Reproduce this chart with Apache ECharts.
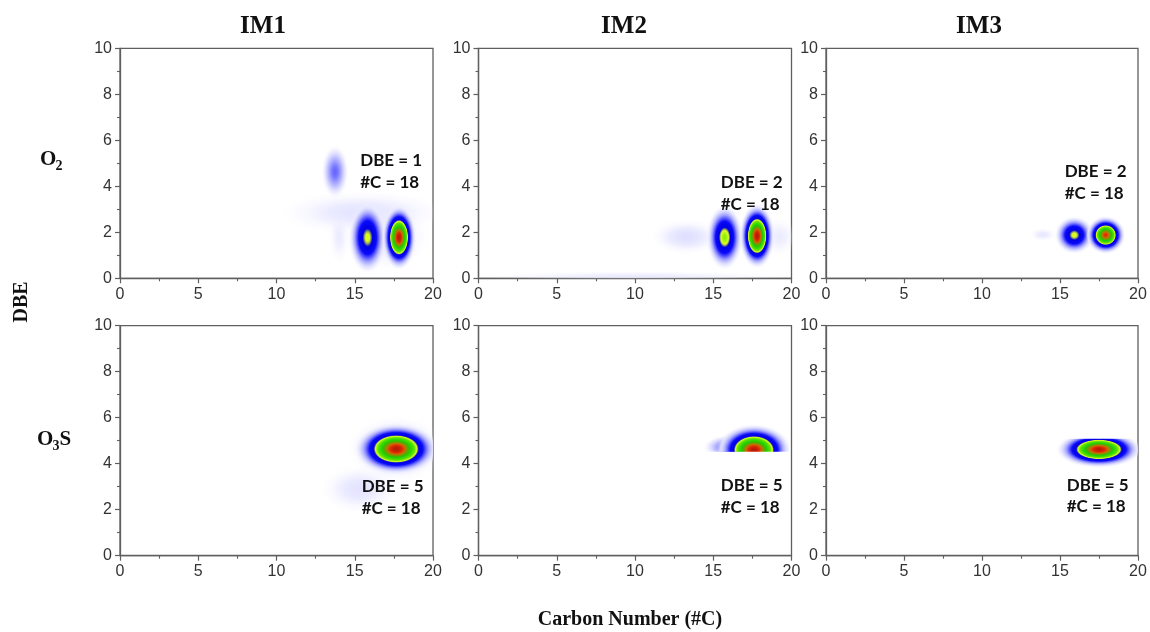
<!DOCTYPE html>
<html>
<head>
<meta charset="utf-8">
<script src="https://cdn.jsdelivr.net/npm/echarts@6/dist/echarts.min.js"></script>
<style>
  html, body { margin: 0; padding: 0; background: #ffffff; }
  #chart { width: 1150px; height: 632px; }
</style>
</head>
<body>
<div id="chart"></div>
<script>
// ---- data -------------------------------------------------------------
const columnTitles = ['IM1', 'IM2', 'IM3'];
// compound class per row: [element, subscript, trailing element]
const rowClasses = [['O', '2', ''], ['O', '3', 'S']];
const xAxisTitle = 'Carbon Number (#C)';
const yAxisTitle = 'DBE';
const carbonRange = [0, 20];
const carbonStep = 5;
const dbeRange = [0, 10];
const dbeStep = 2;

// abundance peaks: [carbon number, DBE, relative abundance, carbon spread, DBE spread]
const im1O2 = [
  [15.5, 2.85, 0.07, 5.6, 1.0],
  [17.0, 1.8, 0.07, 3.0, 1.5],
  [14.0, 1.8, 0.05, 0.7, 1.2],
  [13.74, 4.63, 0.27, 0.9, 1.2],
  [15.82, 1.77, 0.6, 1.25, 1.6],
  [17.83, 1.78, 1.0, 1.12, 1.45]
];
const im2O2 = [
  [10.0, 0.08, 0.05, 10.5, 0.25],
  [13.3, 1.8, 0.08, 2.4, 0.8],
  [19.2, 1.8, 0.05, 1.2, 0.9],
  [15.73, 1.78, 0.64, 1.2, 1.45],
  [17.8, 1.84, 1.0, 1.15, 1.45]
];
const im3O2 = [
  [13.9, 1.9, 0.06, 0.9, 0.3],
  [15.92, 1.88, 0.6, 1.3, 0.85],
  [17.93, 1.88, 0.96, 1.3, 0.85]
];
const im1O3S = [
  [15.3, 2.9, 0.07, 2.6, 1.1],
  [17.65, 4.64, 0.12, 3.2, 1.5],
  [17.65, 4.64, 1.0, 2.75, 1.15]
];
const im2O3S = [
  [16.0, 4.72, 0.3, 1.7, 0.55],
  [17.6, 4.6, 1.0, 2.45, 1.15]
];
const im3O3S = [
  [16.3, 4.6, 0.25, 1.5, 0.5],
  [17.5, 4.62, 1.0, 2.8, 0.82]
];
// detected DBE window for each panel [low, high] (null = open)
const dbeWindows = [
  [null, null], [null, null], [null, null],
  [null, null], [4.52, null], [null, 5.08]
];
// most abundant species per panel
const peakLabels = [
  ['DBE = 1', '#C = 18'], ['DBE = 2', '#C = 18'], ['DBE = 2', '#C = 18'],
  ['DBE = 5', '#C = 18'], ['DBE = 5', '#C = 18'], ['DBE = 5', '#C = 18']
];
const panelPeaks = [im1O2, im2O2, im3O2, im1O3S, im2O3S, im3O3S];

// ---- layout -----------------------------------------------------------
const gridLefts = [120, 478.5, 826];
const gridWidths = [313, 313, 312];
const gridTops = [48.3, 325.7];
const gridHeight = 230;
// anchor (left edge, first line) of each panel's annotation, in axis units
const labelAnchors = [
  [15.35, 5.11], [15.48, 4.16], [15.3, 4.63],
  [15.44, 3.0], [15.48, 3.03], [15.43, 3.07]
];
const titleCenters = [263, 624, 979];

const axisColor = '#5f5f5f';
const tickFont = 'Liberation Sans, Arial, sans-serif';
const serif = 'Liberation Serif, Times New Roman, serif';

// colour ramp: white -> lavender -> blue -> yellow -> green -> red
const ramp = [
  [0.00, [240, 240, 255, 0]],
  [0.05, [232, 232, 255, 0.85]],
  [0.10, [215, 215, 255, 1]],
  [0.20, [160, 160, 255, 1]],
  [0.30, [80, 80, 255, 1]],
  [0.38, [10, 10, 250, 1]],
  [0.53, [0, 0, 225, 1]],
  [0.59, [225, 255, 30, 1]],
  [0.67, [90, 230, 0, 1]],
  [0.82, [30, 200, 0, 1]],
  [0.92, [200, 110, 0, 1]],
  [0.96, [225, 45, 0, 1]],
  [1.00, [185, 25, 10, 1]]
];

function rampColor(v) {
  if (v <= ramp[0][0]) return 'rgba(240,240,255,0)';
  for (let i = 1; i < ramp.length; i++) {
    if (v <= ramp[i][0]) {
      const a = ramp[i - 1], b = ramp[i];
      const f = (v - a[0]) / (b[0] - a[0]);
      const c = a[1].map((x, k) => x + (b[1][k] - x) * f);
      return 'rgba(' + Math.round(c[0]) + ',' + Math.round(c[1]) + ',' + Math.round(c[2]) + ',' + c[3].toFixed(3) + ')';
    }
  }
  const c = ramp[ramp.length - 1][1];
  return 'rgba(' + c.join(',') + ')';
}

function blobGradient(amp) {
  const stops = [];
  const n = 60;
  for (let i = 0; i <= n; i++) {
    const t = i / n;
    const v = amp * Math.pow(1 - t * t, 2);
    stops.push({ offset: t, color: rampColor(v) });
  }
  return { type: 'radial', x: 0.5, y: 0.5, r: 0.5, colorStops: stops };
}

function makeBlobRenderer(panel) {
  return function (params, api) {
    const center = api.coord([api.value(0), api.value(1)]);
    const size = api.size([api.value(3), api.value(4)]);
    const circle = {
      type: 'circle',
      shape: { cx: 0, cy: 0, r: 100 },
      x: center[0], y: center[1],
      scaleX: size[0] / 100, scaleY: size[1] / 100,
      style: { fill: blobGradient(api.value(2)) },
      silent: true
    };
    const group = { type: 'group', children: [circle] };
    const win = dbeWindows[panel];
    const cs = params.coordSys;
    if (win[0] !== null || win[1] !== null) {
      const yLow = win[0] !== null ? api.coord([0, win[0]])[1] : cs.y + cs.height;
      const yHigh = win[1] !== null ? api.coord([0, win[1]])[1] : cs.y;
      group.clipPath = { type: 'rect', shape: { x: cs.x, y: yHigh, width: cs.width, height: yLow - yHigh } };
    }
    return group;
  };
}

function makeLabelRenderer(panel) {
  return function (params, api) {
    const p = api.coord([api.value(0), api.value(1)]);
    const lines = peakLabels[panel];
    return {
      type: 'group',
      children: lines.map((txt, k) => ({
        type: 'text',
        x: p[0], y: p[1] + k * 21.6,
        style: {
          text: txt, fill: '#111111',
          font: 'bold 17px Lato, "Open Sans", sans-serif',
          align: 'left', verticalAlign: 'middle',
          textAlign: 'left', textVerticalAlign: 'middle'
        },
        silent: true
      }))
    };
  };
}

const grids = [], xAxes = [], yAxes = [], series = [];
for (let r = 0; r < 2; r++) {
  for (let c = 0; c < 3; c++) {
    const i = r * 3 + c;
    grids.push({
      left: gridLefts[c], top: gridTops[r], width: gridWidths[c], height: gridHeight,
      show: true, borderColor: axisColor, borderWidth: 1.3, backgroundColor: 'transparent',
      containLabel: false, outerBoundsMode: 'none'
    });
    const axisCommon = {
      gridIndex: i, type: 'value',
      axisLine: { show: true, onZero: false, lineStyle: { color: axisColor, width: 1.3 } },
      axisTick: { show: true, inside: false, length: 5, lineStyle: { color: axisColor, width: 1.2 } },
      minorTick: { show: true, splitNumber: 2, length: 3, lineStyle: { color: axisColor, width: 1.1 } },
      splitLine: { show: false },
      minorSplitLine: { show: false },
      axisLabel: { fontFamily: tickFont, fontSize: 16, color: '#333333', margin: 8, showMinLabel: true, showMaxLabel: true }
    };
    xAxes.push(Object.assign({}, axisCommon, {
      min: carbonRange[0], max: carbonRange[1], interval: carbonStep
    }));
    yAxes.push(Object.assign({}, axisCommon, {
      min: dbeRange[0], max: dbeRange[1], interval: dbeStep
    }));
    series.push({
      type: 'custom', coordinateSystem: 'cartesian2d',
      xAxisIndex: i, yAxisIndex: i, clip: true, silent: true, animation: false,
      renderItem: makeBlobRenderer(i),
      data: panelPeaks[i], z: 2
    });
    series.push({
      type: 'custom', coordinateSystem: 'cartesian2d',
      xAxisIndex: i, yAxisIndex: i, silent: true, animation: false,
      renderItem: makeLabelRenderer(i),
      data: [labelAnchors[i]], z: 5
    });
  }
}

const graphics = [];
columnTitles.forEach((t, c) => {
  graphics.push({
    type: 'text', x: titleCenters[c], y: 27,
    style: { text: t, font: 'bold 25px ' + serif, fill: '#111111',
      align: 'center', verticalAlign: 'middle', textAlign: 'center', textVerticalAlign: 'middle' }
  });
});
// row labels with subscripts
const rowLabelPos = [[40, 160], [37, 440]];
rowClasses.forEach((cls, r) => {
  const [x0, y0] = rowLabelPos[r];
  graphics.push({ type: 'text', x: x0, y: y0,
    style: { text: cls[0], font: 'bold 21px ' + serif, fill: '#111111',
      align: 'left', verticalAlign: 'middle', textAlign: 'left', textVerticalAlign: 'middle' } });
  graphics.push({ type: 'text', x: x0 + 15.5, y: y0 + 6,
    style: { text: cls[1], font: 'bold 14px ' + serif, fill: '#111111',
      align: 'left', verticalAlign: 'middle', textAlign: 'left', textVerticalAlign: 'middle' } });
  if (cls[2]) {
    graphics.push({ type: 'text', x: x0 + 22.5, y: y0,
      style: { text: cls[2], font: 'bold 21px ' + serif, fill: '#111111',
        align: 'left', verticalAlign: 'middle', textAlign: 'left', textVerticalAlign: 'middle' } });
  }
});
graphics.push({
  type: 'text', x: 22, y: 302, rotation: Math.PI / 2,
  style: { text: yAxisTitle, font: 'bold 20px ' + serif, fill: '#111111',
    align: 'center', verticalAlign: 'middle', textAlign: 'center', textVerticalAlign: 'middle' }
});
graphics.push({
  type: 'text', x: 630, y: 620,
  style: { text: xAxisTitle, font: 'bold 20px ' + serif, fill: '#111111',
    align: 'center', verticalAlign: 'middle', textAlign: 'center', textVerticalAlign: 'middle' }
});

const chart = echarts.init(document.getElementById('chart'), null, { renderer: 'canvas' });
chart.setOption({
  animation: false,
  backgroundColor: '#ffffff',
  grid: grids,
  xAxis: xAxes,
  yAxis: yAxes,
  series: series,
  graphic: { elements: graphics }
});
</script>
</body>
</html>
